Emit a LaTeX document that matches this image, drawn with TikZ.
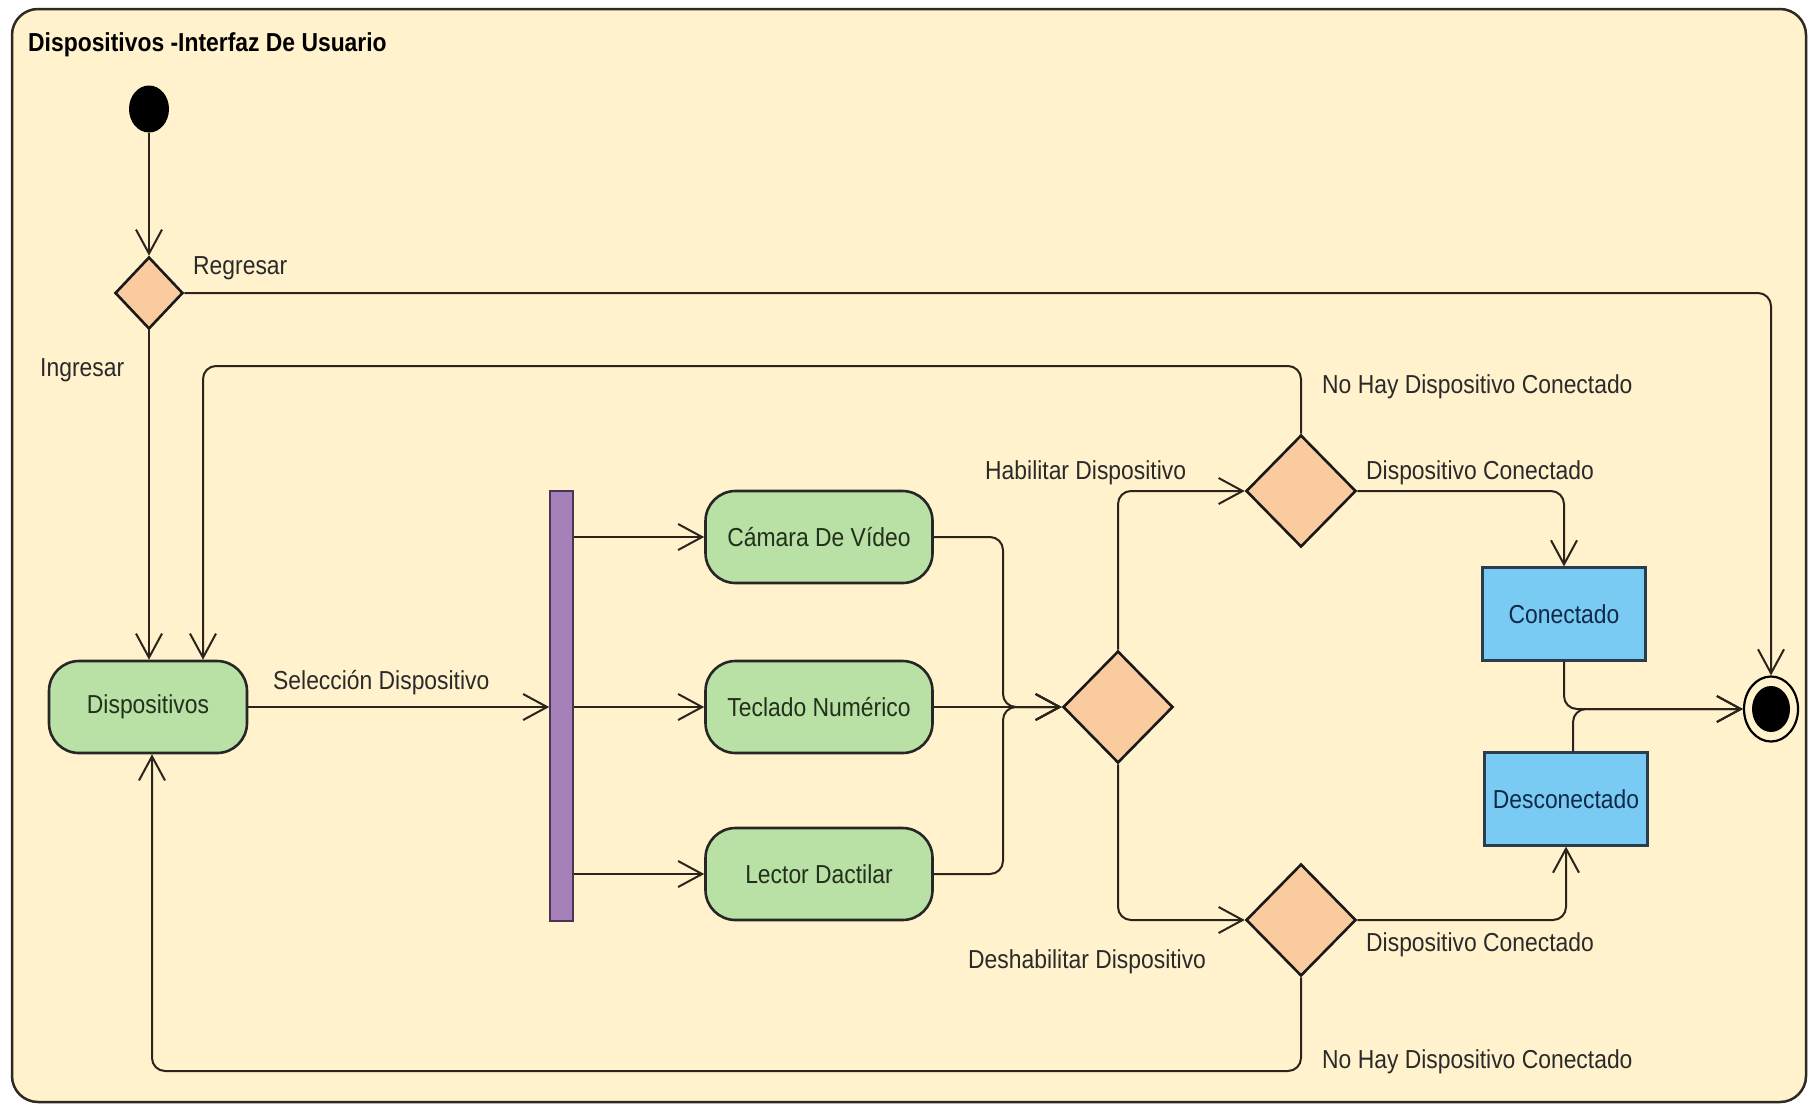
\documentclass[tikz,border=0pt]{standalone}
\usepackage{fontspec}
\setmainfont{Liberation Sans}[FakeStretch=0.88]
\usetikzlibrary{shapes.geometric,arrows.meta,calc}
\definecolor{bgY}{HTML}{FFF2CC}
\definecolor{frameC}{HTML}{2E2A22}
\definecolor{lineC}{HTML}{2A241C}
\definecolor{greenF}{HTML}{B9E0A5}
\definecolor{greenT}{HTML}{22301C}
\definecolor{peach}{HTML}{FACB9E}
\definecolor{purpF}{HTML}{A680B8}
\definecolor{purpD}{HTML}{4A3557}
\definecolor{blueF}{HTML}{79CBF3}
\definecolor{blueD}{HTML}{2A3D4F}
\definecolor{blueT}{HTML}{0F2A48}
\definecolor{labelT}{HTML}{2A2A2A}
\newcommand\lblfont{\fontsize{26pt}{30pt}\selectfont}
\begin{document}
\begin{tikzpicture}[x=1pt,y=-1pt,
  conn/.style={draw=lineC, line width=2pt, rounded corners=13pt},
  arr/.style={conn, -{Straight Barb[length=24pt,width=26pt,line width=2pt]}},
  act/.style={draw=black!85, fill=greenF, line width=2.6pt, rounded corners=30pt,
    minimum height=92pt, text=greenT, font=\lblfont, inner sep=0pt},
  dec/.style={shape=diamond, draw=black!90, fill=peach, line width=2.6pt,
    minimum width=110pt, minimum height=112pt, inner sep=0pt},
  state/.style={draw=blueD, fill=blueF, line width=2.2pt, minimum width=163pt,
    minimum height=93pt, text=blueT, font=\lblfont, inner sep=0pt},
  lbl/.style={font=\lblfont, text=labelT, inner sep=0pt, anchor=west},
]
\useasboundingbox (0,0) rectangle (1811,1106);
\fill[white] (0,0) rectangle (1811,1106);
\draw[fill=bgY, draw=frameC, line width=2.5pt, rounded corners=26pt] (12,9) rectangle (1806,1102);
\node[lbl, font=\lblfont\bfseries, text=black] (title) at (28,45) {Dispositivos -Interfaz De Usuario};

% nodes
\node[ellipse, fill=black, minimum width=40pt, minimum height=47pt, inner sep=0pt] (start) at (149,109) {};
\node[dec, minimum width=68pt, minimum height=72pt] (d1) at (149,293) {};
\node[act, minimum width=198pt] (disp) at (148,707) {Dispositivos};
\node[draw=purpD, fill=purpF, line width=1.6pt, minimum width=23pt, minimum height=430pt, inner sep=0pt] (bar) at (561.5,706) {};
\node[act, minimum width=227pt] (cam) at (819,537) {Cámara De Vídeo};
\node[act, minimum width=227pt] (tec) at (819,707) {Teclado Numérico};
\node[act, minimum width=227pt] (lec) at (819,874) {Lector Dactilar};
\node[dec] (dm) at (1118,707) {};
\node[dec] (dup) at (1301,491) {};
\node[dec] (dlow) at (1301,920) {};
\node[state] (con) at (1564,614) {Conectado};
\node[state] (des) at (1566,799) {Desconectado};
\node[ellipse, draw=black, fill=bgY, line width=2.2pt, minimum width=54pt, minimum height=65pt, inner sep=0pt] (fin) at (1771,709) {};
\node[ellipse, fill=black, minimum width=38pt, minimum height=46pt, inner sep=0pt] (finIn) at (1771,709) {};

% helper coordinates
\coordinate (loopT) at (203,366);
\coordinate (loopB) at (152,1071);
\coordinate (mx) at (1003,707);

% connectors
\draw[arr] (start.south) -- (d1.north);
\draw[arr] (d1.east) -| (fin.north);
\draw[arr] (d1.south) -- (d1.south |- disp.north);
\draw[arr] (dup.north) |- (loopT) -- (loopT |- disp.north);
\draw[arr] (disp.east) -- (bar.west |- disp.east);
\draw[arr] (bar.east |- cam.west) -- (cam.west);
\draw[arr] (bar.east |- tec.west) -- (tec.west);
\draw[arr] (bar.east |- lec.west) -- (lec.west);
\draw[arr] (cam.east) -| (mx) -- (dm.west);
\draw[arr] (tec.east) -- (dm.west);
\draw[arr] (lec.east) -| (mx) -- (dm.west);
\draw[arr] (dm.north) |- (dup.west);
\draw[arr] (dm.south) |- (dlow.west);
\draw[arr] (dup.east) -| (con.north);
\draw[arr] (dlow.east) -| (des.south);
\draw[arr] (dlow.south) |- (loopB) -- (loopB |- disp.south);
\draw[arr] (con.south) |- (fin.west);
\draw[arr] ([xshift=7pt]des.north) |- (fin.west);

% labels
\node[lbl] (lReg) at (193,268) {Regresar};
\node[lbl] (lIng) at (40,370) {Ingresar};
\node[lbl] (lSel) at (273,683) {Selección Dispositivo};
\node[lbl] (lHab) at (985,473) {Habilitar Dispositivo};
\node[lbl] (lNo1) at (1322,387) {No Hay Dispositivo Conectado};
\node[lbl] (lDc1) at (1366,473) {Dispositivo Conectado};
\node[lbl] (lDes) at (968,962) {Deshabilitar Dispositivo};
\node[lbl] (lDc2) at (1366,945) {Dispositivo Conectado};
\node[lbl] (lNo2) at (1322,1062) {No Hay Dispositivo Conectado};
\end{tikzpicture}
\end{document}
